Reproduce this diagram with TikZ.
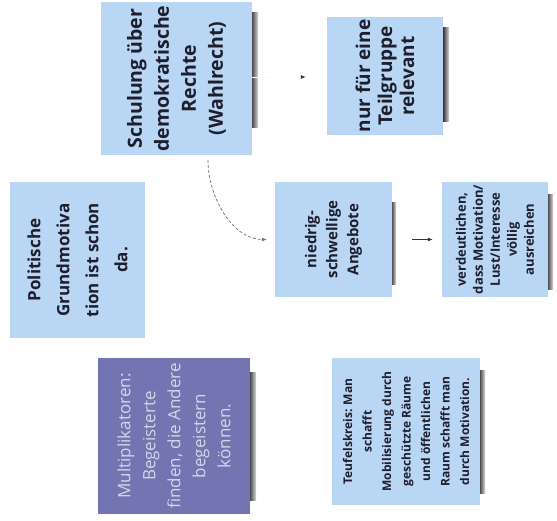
\documentclass[tikz,border=0pt]{standalone}
\usepackage{fontspec}
\setmainfont{Open Sans}
\usetikzlibrary{positioning}
\usetikzlibrary{calc}
\usetikzlibrary{arrows.meta}
\definecolor{boxblue}{RGB}{185,214,245}
\definecolor{multiblue}{RGB}{115,116,178}
\definecolor{multitext}{RGB}{214,214,232}
\definecolor{textdark}{RGB}{30,30,45}

\tikzset{
  card/.style={rotate=90, fill=boxblue, text=textdark, align=center, inner sep=0pt},
  pshadow/.style={left color=black!80, right color=black!15},
  arr/.style={-{Latex[length=5pt,width=4pt]}, line width=0.8pt, black!80},
}

\begin{document}
\begin{tikzpicture}[x=1pt,y=1pt]
    \useasboundingbox (0,0) rectangle (557,-521);

    % draw shadows
    \shade[pshadow] (251,-13) rectangle (258,-128);
    \shade[pshadow] (443,-28) rectangle (449,-122);
    \shade[pshadow] (391,-203) rectangle (396,-285);
    \shade[pshadow] (547,-195) rectangle (553,-290);
    \shade[pshadow] (249,-372) rectangle (256,-500);
    \shade[pshadow] (479,-370) rectangle (485,-493);

    % draw boxes
    \node[card, minimum width=153pt, minimum height=151pt,
      font=\bfseries\fontsize{19.5}{27}\selectfont] (schulung) at (176.5,-78.5)
      {Schulung über\\demokratische\\Rechte\\(Wahlrecht)};
    \node[card, minimum width=118pt, minimum height=116pt,
      font=\bfseries\fontsize{19}{22}\selectfont] (teilgruppe) at (385,-76)
      {nur für eine\\Teilgruppe\\relevant};
    \node[card, minimum width=156pt, minimum height=135pt,
      font=\bfseries\fontsize{17}{29}\selectfont] (grundmotivation) at (77.5,-260)
      {Politische\\Grundmotiva\\tion ist schon\\da.};
    \node[card, minimum width=115pt, minimum height=117pt,
      font=\bfseries\fontsize{15}{21}\selectfont] (angebote) at (333.5,-239.5)
      {niedrig-\\schwellige\\Angebote};
    \node[card, minimum width=115pt, minimum height=106pt,
      font=\bfseries\fontsize{13}{17}\selectfont] (verdeutlichen) at (495,-239.5)
      {verdeutlichen,\\dass Motivation/\\Lust/Interesse\\völlig\\ausreichen};
    \node[card, fill=multiblue, text=multitext, minimum width=156pt, minimum height=152pt,
      font=\fontsize{17}{25}\selectfont] (multiplikatoren) at (174,-436)
      {Multiplikatoren:\\Begeisterte\\finden, die Andere\\begeistern\\können.};
    \node[card, minimum width=147pt, minimum height=148pt,
      font=\bfseries\fontsize{12}{19.5}\selectfont] (teufelskreis) at (406,-431.5)
      {Teufelskreis: Man\\schafft\\Mobilisierung durch\\geschützte Räume\\und öffentlichen\\Raum schafft man\\durch Motivation.};

    % draw arrows
    \draw[-{Latex[length=5pt,width=4pt,color=black!80]}, line width=0.8pt, black!2,
      shorten >=21pt] (schulung) -- (teilgruppe);
    \draw[arr, black!55, line width=0.7pt, dash pattern=on 3pt off 2pt, shorten <=5pt, shorten >=8pt]
      ($(schulung.west)+(31.5pt,0)$) to[out=-90, in=180] (angebote.north);
    \draw[arr, shorten <=20pt, shorten >=9pt] (angebote) -- (verdeutlichen);
\end{tikzpicture}
\end{document}
